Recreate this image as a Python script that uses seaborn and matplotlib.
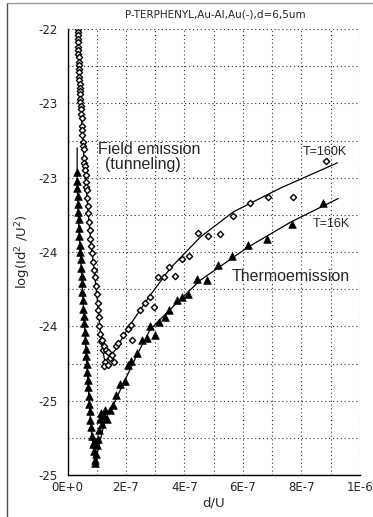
import pandas as pd
import matplotlib
matplotlib.use('Agg')
import matplotlib.pyplot as plt
import seaborn as sns
import numpy as np
from matplotlib.ticker import MultipleLocator, FuncFormatter
from matplotlib.lines import Line2D

# d/U values are given in units of 1e-7
hot_x = [0.36, 0.36, 0.36, 0.36, 0.36, 0.36, 0.37, 0.37, 0.38, 0.38, 0.39, 0.39, 0.39, 0.39, 0.40, 0.41,
         0.42, 0.43, 0.43, 0.43, 0.44, 0.45, 0.46, 0.46, 0.48, 0.50, 0.50, 0.51, 0.53, 0.53, 0.55, 0.57,
         0.58, 0.60, 0.60, 0.62, 0.63, 0.63, 0.65, 0.67, 0.70, 0.70, 0.74, 0.77, 0.77, 0.80, 0.84, 0.87,
         0.91, 0.94, 0.98, 1.01, 1.04, 1.04, 1.08, 1.08, 1.11, 1.15, 1.22,
         1.18, 1.25, 1.32, 1.39, 1.28, 1.46, 1.52, 1.25, 1.39, 1.59, 1.66, 1.73, 1.90, 2.07, 2.21, 2.17,
         2.48, 2.65, 2.83, 2.96, 3.10, 3.30, 3.48, 3.68, 3.92, 4.16, 4.47, 4.81, 5.22, 5.67, 6.25, 6.87,
         7.72, 8.85]
hot_y = [-22.00, -22.02, -22.04, -22.07, -22.09, -22.12, -22.14, -22.17, -22.19, -22.22, -22.24, -22.27,
         -22.29, -22.32, -22.34, -22.37, -22.40, -22.42, -22.44, -22.47, -22.49, -22.52, -22.54, -22.57,
         -22.60, -22.65, -22.68, -22.71, -22.76, -22.79, -22.81, -22.87, -22.90, -22.92, -22.95, -22.98,
         -23.03, -23.06, -23.08, -23.14,
         -23.19, -23.24, -23.30, -23.35, -23.41, -23.46, -23.51, -23.57, -23.62, -23.67, -23.73, -23.78,
         -23.84, -23.89, -23.94, -24.00, -24.05, -24.10, -24.16,
         -24.09, -24.13, -24.16, -24.17, -24.24, -24.21, -24.19, -24.27, -24.26, -24.24, -24.13, -24.11,
         -24.06, -24.02, -24.09, -23.99,
         -23.89, -23.84, -23.80, -23.87, -23.67, -23.67, -23.60, -23.66, -23.55, -23.53, -23.37, -23.39,
         -23.38, -23.26, -23.17, -23.13, -23.13, -22.89]

cold_x = [0.33, 0.33, 0.33, 0.36, 0.36, 0.36, 0.39, 0.39, 0.39, 0.43, 0.43, 0.46, 0.46, 0.50, 0.50, 0.50,
          0.53, 0.53, 0.57, 0.57, 0.60, 0.60, 0.63, 0.63, 0.67, 0.67, 0.70, 0.70, 0.74, 0.74, 0.77, 0.77,
          0.80, 0.84, 0.87, 0.91, 0.94,
          0.94, 0.98, 1.01, 1.04, 0.91, 1.08, 1.11, 1.15, 1.25, 1.28, 1.18, 1.35, 1.46, 1.56, 1.66, 1.80,
          1.97, 2.07, 2.17, 2.38, 2.55, 2.72, 2.83, 3.00, 3.13, 3.34, 3.48, 3.75, 3.92, 4.13, 4.43, 4.78,
          5.15, 5.63, 6.18, 6.83, 7.69, 8.75]
cold_y = [-22.96, -23.02, -23.07, -23.12, -23.18, -23.23, -23.28, -23.34, -23.39, -23.45, -23.50, -23.55,
          -23.61, -23.66, -23.71, -23.77, -23.82, -23.88, -23.93, -23.98, -24.04, -24.09, -24.15, -24.20,
          -24.25, -24.31, -24.36, -24.41, -24.47, -24.52, -24.57, -24.63, -24.68, -24.74, -24.79, -24.84,
          -24.90,
          -24.92, -24.86, -24.80, -24.76, -24.78, -24.70, -24.62, -24.58, -24.60, -24.56, -24.66, -24.62,
          -24.56, -24.53, -24.46, -24.39,
          -24.37, -24.26, -24.23, -24.18, -24.09, -24.08, -24.00, -24.06, -23.97, -23.94, -23.89, -23.82,
          -23.80, -23.78, -23.68, -23.69, -23.59, -23.53, -23.45, -23.41, -23.31, -23.17]

# fitted / guide curves
hot_fit_x = [0.36, 0.43, 0.53, 0.63, 0.77, 0.91, 1.04, 1.15, 1.28, 1.63, 2.14, 2.83, 3.51, 4.54, 5.67, 7.28, 9.23]
hot_fit_y = [-22.00, -22.45, -22.78, -23.05, -23.38, -23.62, -23.86, -24.10, -24.24, -24.16, -23.99, -23.79,
             -23.61, -23.40, -23.23, -23.07, -22.90]
cold_fit_x = [0.33, 0.33, 0.39, 0.50, 0.60, 0.70, 0.80, 0.94, 1.28, 1.56, 1.97, 2.38, 2.83, 3.34, 3.85, 4.54,
              6.15, 7.62, 9.26]
cold_fit_y = [-22.80, -23.05, -23.35, -23.72, -24.06, -24.38, -24.68, -24.92, -24.63, -24.53, -24.36, -24.19,
              -24.02, -23.92, -23.82, -23.69, -23.47, -23.30, -23.14]

x_tick_vals = [0, 2e-7, 4e-7, 6e-7, 8e-7, 1e-6]
x_tick_labels = ['0E+0', '2E-7', '4E-7', '6E-7', '8E-7', '1E-6']

hot = pd.DataFrame({'d/U': np.array(hot_x) * 1e-7, 'log': hot_y})
cold = pd.DataFrame({'d/U': np.array(cold_x) * 1e-7, 'log': cold_y})
hot_fit = pd.DataFrame({'d/U': np.array(hot_fit_x) * 1e-7, 'log': hot_fit_y})
cold_fit = pd.DataFrame({'d/U': np.array(cold_fit_x) * 1e-7, 'log': cold_fit_y})

sns.set_style('white')
plt.rcParams['font.family'] = ['DejaVu Sans']

fig = plt.figure(figsize=(3.73, 5.17), dpi=100)
ax = fig.add_axes([0.181, 0.0812, 0.784, 0.8627])

sns.lineplot(data=hot_fit, x='d/U', y='log', sort=False, estimator=None, color='black', lw=0.9, ax=ax)
sns.lineplot(data=cold_fit, x='d/U', y='log', sort=False, estimator=None, color='black', lw=0.9, ax=ax)
sns.scatterplot(data=cold, x='d/U', y='log', marker='^', s=30, color='black', edgecolor='black',
                linewidth=0.5, ax=ax, zorder=3)
sns.scatterplot(data=hot, x='d/U', y='log', marker='D', s=10, facecolor='white', edgecolor='black',
                linewidth=1.0, ax=ax, zorder=4)

ax.set_xlim(0, 1e-6)
ax.set_ylim(-25, -22)
ax.set_xticks(x_tick_vals)
ax.set_xticklabels(x_tick_labels)
ax.xaxis.set_minor_locator(MultipleLocator(1e-7))
ax.yaxis.set_major_locator(MultipleLocator(0.5))
ax.yaxis.set_minor_locator(MultipleLocator(0.25))
ax.yaxis.set_major_formatter(FuncFormatter(lambda v, p: '-%d' % int(np.floor(-v + 0.5))))

ax.grid(True, which='both', linestyle=(0, (1, 2.5)), color='0.2', linewidth=0.8)
ax.set_axisbelow(True)
for side in ['top', 'right']:
    ax.spines[side].set_visible(False)
for side in ['left', 'bottom']:
    ax.spines[side].set_color('black')
    ax.spines[side].set_linewidth(1.0)

ax.tick_params(axis='x', which='major', direction='in', length=9, width=1, labelsize=8.5, pad=4)
ax.tick_params(axis='x', which='minor', length=0)
ax.tick_params(axis='y', which='major', direction='out', length=5, width=1, labelsize=8.5, pad=2)
ax.tick_params(axis='y', which='minor', direction='in', length=3, width=1)

ax.set_xlabel('d/U', fontsize=9.5, labelpad=2)
ax.set_ylabel(r'log(Id$^2$ /U$^2$)', fontsize=9.5, labelpad=4)

fig.text(0.576, 0.972, 'P-TERPHENYL,Au-Al,Au(-),d=6,5um', ha='center', va='center', fontsize=7.5)

txt = dict(transform=ax.transAxes, family='Liberation Sans', ha='left', va='center')
ax.text(0.104, 0.729, 'Field emission', fontsize=11.5, **txt)
ax.text(0.128, 0.697, '(tunneling)', fontsize=11.5, **txt)
ax.text(0.562, 0.446, 'Thermoemission', fontsize=11.5, **txt)
ax.text(0.805, 0.724, 'T=160K', fontsize=9, **txt)
ax.text(0.839, 0.563, 'T=16K', fontsize=9, **txt)

fig.add_artist(Line2D([0.019, 0.019], [0.0, 0.995], transform=fig.transFigure, color='0.3', lw=1))
fig.add_artist(Line2D([0.019, 1.0], [0.995, 0.995], transform=fig.transFigure, color='0.6', lw=1))

fig.savefig('out.png', dpi=100)
